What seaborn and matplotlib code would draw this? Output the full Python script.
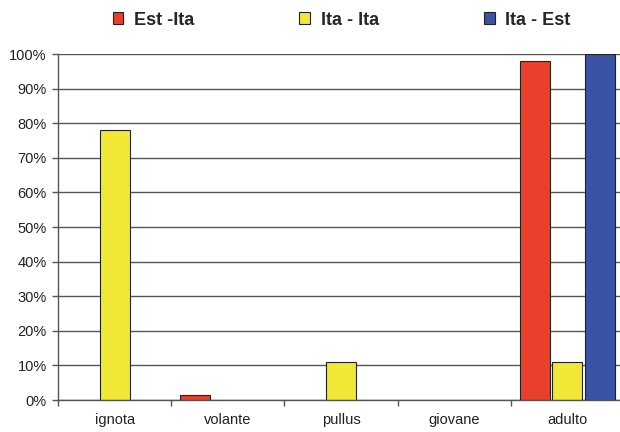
import matplotlib
matplotlib.use("Agg")
import matplotlib.pyplot as plt
import seaborn as sns
import pandas as pd
import numpy as np
from matplotlib.patches import Patch

categories = ["ignota", "volante", "pullus", "giovane", "adulto"]
series = ["Est -Ita", "Ita - Ita", "Ita - Est"]
est_ita = [np.nan, 1.5, np.nan, np.nan, 98]
ita_ita = [78, np.nan, 11, np.nan, 11]
ita_est = [np.nan, np.nan, np.nan, np.nan, 100]
colors = ["#EA3F2A", "#F0E835", "#3A53A4"]
ytick_labels = [f"{v}%" for v in range(0, 101, 10)]

rows = []
for name, vals in zip(series, [est_ita, ita_ita, ita_est]):
    for cat, v in zip(categories, vals):
        rows.append({"classe": cat, "serie": name, "valore": v})
df = pd.DataFrame(rows)

sns.set_theme(style="white")
plt.rcParams["font.family"] = ["Liberation Sans", "DejaVu Sans"]

fig = plt.figure(figsize=(6.2, 4.32), dpi=100)
ax = fig.add_axes([0.0935, 0.074, 0.913, 0.801])

sns.barplot(data=df, x="classe", y="valore", hue="serie", order=categories,
            hue_order=series, palette=colors, width=0.86, gap=0.08,
            edgecolor="#222222", linewidth=0.8, saturation=1, ax=ax,
            legend=False)

ax.set_ylim(0, 100)
ax.set_xlim(-0.5, 4.5)
ax.set_yticks(range(0, 101, 10))
ax.set_yticklabels(ytick_labels, fontsize=10.5, color="#222222")
ax.yaxis.grid(True, color="#555555", linewidth=1.0)
ax.set_axisbelow(True)
ax.set_xlabel("")
ax.set_ylabel("")
ax.tick_params(axis="x", which="major", length=0, labelsize=10.5, labelcolor="#222222", pad=9)
ax.set_xticks(np.arange(-0.5, 5.0, 1.0), minor=True)
ax.tick_params(axis="x", which="minor", length=4, width=1, color="#555555", direction="out", bottom=True)
ax.tick_params(axis="y", length=4, width=1, color="#555555", direction="out", left=True, pad=4)
for side in ["top", "right"]:
    ax.spines[side].set_visible(False)
for side in ["left", "bottom"]:
    ax.spines[side].set_color("#555555")
    ax.spines[side].set_linewidth(1.0)

handles = [Patch(facecolor=c, edgecolor="#222222", linewidth=0.8) for c in colors]
fig.legend(handles, series, loc="upper left", bbox_to_anchor=(0.17, 0.99),
           ncol=3, frameon=False, prop={"size": 13, "weight": "bold"},
           handlelength=0.6, handleheight=0.6, handletextpad=0.6,
           columnspacing=5.8, borderpad=0.2, borderaxespad=0.2)

fig.savefig("out.png", dpi=100)
